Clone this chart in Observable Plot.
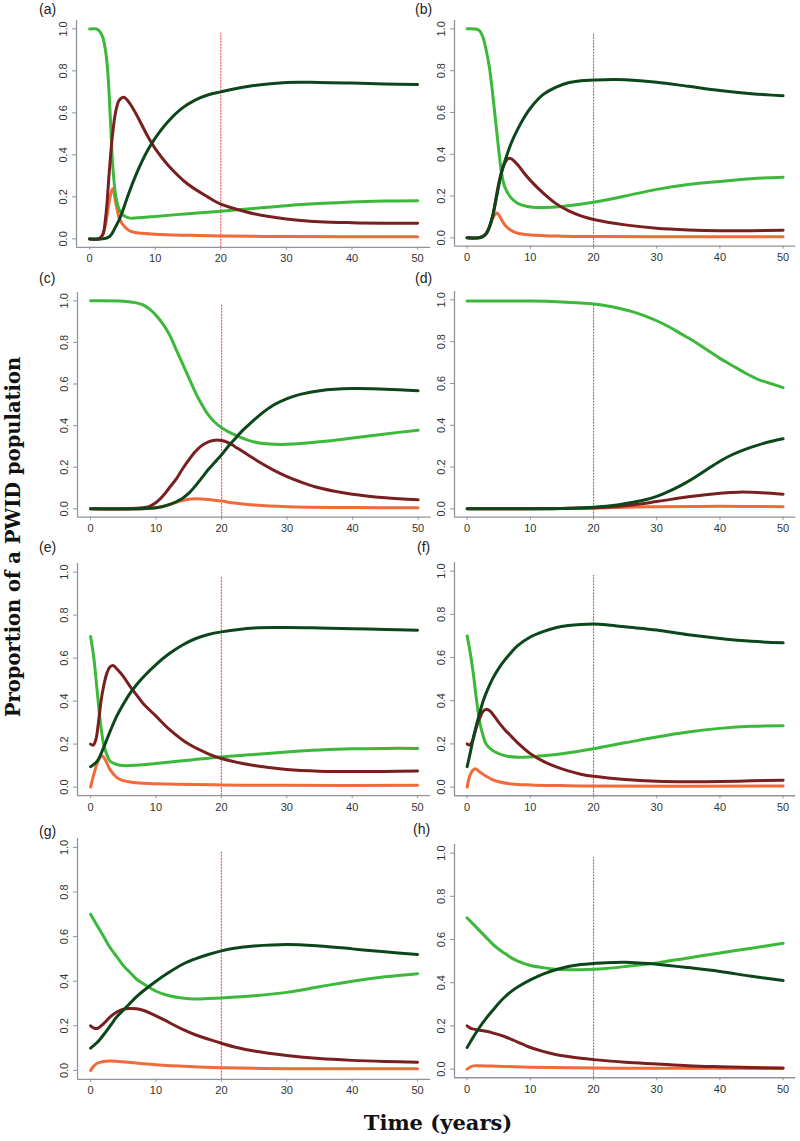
<!DOCTYPE html>
<html><head><meta charset="utf-8">
<script src="https://cdn.jsdelivr.net/npm/d3@7"></script>
<script src="https://cdn.jsdelivr.net/npm/@observablehq/plot@0.6"></script>
<style>
body{margin:0;background:#fff;}
#root{position:relative;width:800px;height:1141px;overflow:hidden;background:#fff;}
.pl{position:absolute;}
.lab{position:absolute;font-family:"Liberation Sans",Arial,sans-serif;font-size:14px;color:#222;line-height:1;white-space:nowrap;}
.title{position:absolute;font-family:"DejaVu Serif",serif;font-weight:bold;color:#111;white-space:nowrap;line-height:1;}
</style>
</head><body>
<div id="root"></div>
<script>
// ---------- tick labels / categories ----------
const xTicks = [0, 10, 20, 30, 40, 50];
const yTicks = [0, 0.2, 0.4, 0.6, 0.8, 1.0];
const panelLetters = ["a","b","c","d","e","f","g","h"];
const seriesKeys = ["orange","lightGreen","darkRed","darkGreen"];
const seriesColors = {lightGreen:"#3cb83a", darkGreen:"#0b471b", darkRed:"#7a1f1f", orange:"#f26a3a"};
const interventionYear = 20;
const yTitle = "Proportion of a PWID population";
const xTitle = "Time (years)";

// ---------- series values [year, proportion] ----------
const a_lightGreen = [[0,1.0],[1,1.0],[1.5,0.99],[2,0.96],[2.5,0.88],[2.8,0.78],[3.2,0.55],[3.5,0.36],[4,0.2],[4.5,0.14],[5,0.115],[6,0.10],[8,0.102],[10,0.107],[15,0.12],[20,0.132],[25,0.145],[30,0.158],[35,0.168],[40,0.176],[45,0.18],[50,0.182]];
const a_darkRed = [[0,0],[1,0],[1.5,0.003],[2,0.02],[2.5,0.12],[3,0.32],[3.5,0.5],[4,0.61],[4.5,0.66],[5.2,0.675],[6,0.65],[7,0.6],[8,0.54],[9,0.48],[10,0.43],[12,0.35],[15,0.26],[18,0.2],[20,0.165],[22,0.145],[25,0.12],[30,0.095],[35,0.082],[40,0.077],[45,0.075],[50,0.075]];
const a_darkGreen = [[0,0],[2,0],[3,0.01],[3.5,0.03],[4,0.06],[4.5,0.09],[5,0.13],[6,0.22],[7,0.3],[8,0.37],[9,0.43],[10,0.48],[12,0.56],[14,0.62],[16,0.66],[18,0.685],[20,0.70],[25,0.73],[30,0.745],[35,0.745],[40,0.742],[45,0.738],[50,0.735]];
const a_orange = [[0,0],[1.5,0],[2,0.02],[2.5,0.08],[3,0.18],[3.5,0.24],[4,0.17],[4.5,0.1],[5,0.07],[6,0.04],[7,0.03],[10,0.022],[15,0.017],[20,0.014],[30,0.011],[40,0.01],[50,0.01]];

const b_lightGreen = [[0,1.0],[1.5,0.998],[2,0.99],[2.5,0.96],[3,0.9],[3.5,0.82],[4,0.7],[4.5,0.56],[5,0.42],[5.5,0.3],[6,0.24],[7,0.19],[8,0.165],[10,0.148],[12,0.145],[15,0.15],[20,0.17],[25,0.2],[30,0.232],[35,0.255],[40,0.27],[45,0.283],[50,0.29]];
const b_darkRed = [[0,0],[2,0.002],[3,0.02],[4,0.1],[4.5,0.18],[5,0.26],[5.5,0.32],[6,0.36],[6.5,0.38],[7,0.378],[8,0.35],[9,0.31],[10,0.275],[12,0.215],[14,0.165],[16,0.13],[18,0.105],[20,0.088],[25,0.062],[30,0.046],[35,0.038],[40,0.034],[45,0.034],[50,0.036]];
const b_darkGreen = [[0,0],[2,0],[2.5,0.005],[3,0.02],[3.5,0.05],[4,0.1],[4.5,0.17],[5,0.25],[5.5,0.32],[6,0.37],[7,0.455],[8,0.52],[9,0.575],[10,0.62],[12,0.685],[14,0.72],[16,0.742],[18,0.752],[20,0.755],[23,0.758],[25,0.757],[30,0.745],[35,0.725],[40,0.705],[45,0.69],[50,0.68]];
const b_orange = [[0,0],[2,0.001],[3,0.02],[3.5,0.05],[4,0.09],[4.5,0.115],[4.8,0.118],[5.2,0.1],[6,0.06],[7,0.035],[8,0.022],[10,0.014],[15,0.008],[20,0.006],[30,0.005],[50,0.005]];

const c_lightGreen = [[0,1.0],[5,0.998],[7,0.99],[8,0.98],[9,0.96],[10,0.93],[11,0.89],[12,0.84],[13,0.77],[14,0.70],[15,0.63],[16,0.56],[17,0.5],[18,0.45],[19,0.415],[20,0.39],[22,0.355],[24,0.33],[26,0.315],[28,0.31],[30,0.31],[35,0.322],[40,0.34],[45,0.36],[50,0.378]];
const c_darkRed = [[0,0],[8,0.005],[9,0.012],[10,0.03],[11,0.06],[12,0.1],[13,0.14],[14,0.19],[15,0.235],[16,0.275],[17,0.305],[18,0.322],[19,0.33],[20,0.328],[21,0.318],[22,0.3],[24,0.26],[26,0.22],[28,0.185],[30,0.155],[32,0.13],[35,0.1],[40,0.07],[45,0.053],[50,0.043]];
const c_darkGreen = [[0,0],[10,0.005],[12,0.02],[14,0.05],[15,0.075],[16,0.11],[17,0.15],[18,0.19],[19,0.225],[20,0.26],[21,0.3],[22,0.335],[23,0.37],[24,0.4],[26,0.455],[28,0.5],[30,0.53],[32,0.55],[35,0.568],[40,0.578],[45,0.575],[50,0.568]];
const c_orange = [[0,0],[10,0.005],[12,0.02],[14,0.04],[16,0.048],[18,0.045],[20,0.037],[22,0.028],[25,0.018],[30,0.01],[40,0.006],[50,0.005]];

const d_lightGreen = [[0,0.995],[10,0.994],[15,0.99],[18,0.985],[20,0.98],[22,0.972],[24,0.96],[26,0.945],[28,0.925],[30,0.9],[32,0.87],[34,0.835],[36,0.8],[38,0.76],[40,0.72],[42,0.685],[44,0.65],[46,0.62],[48,0.6],[50,0.58]];
const d_darkRed = [[0,0],[20,0.005],[25,0.015],[30,0.035],[35,0.058],[40,0.075],[43,0.08],[46,0.078],[50,0.07]];
const d_darkGreen = [[0,0],[15,0.002],[20,0.008],[22,0.013],[24,0.02],[26,0.03],[28,0.042],[30,0.06],[32,0.085],[34,0.115],[36,0.15],[38,0.19],[40,0.228],[42,0.26],[44,0.285],[46,0.305],[48,0.322],[50,0.335]];
const d_orange = [[0,0],[20,0.003],[25,0.008],[30,0.01],[40,0.012],[50,0.01]];

const e_lightGreen = [[0,0.7],[0.5,0.6],[1,0.45],[1.5,0.3],[2,0.2],[2.5,0.15],[3,0.12],[4,0.105],[5,0.1],[7,0.102],[10,0.11],[15,0.125],[20,0.14],[25,0.152],[30,0.163],[35,0.172],[40,0.178],[45,0.18],[50,0.18]];
const e_darkRed = [[0,0.2],[0.4,0.195],[0.8,0.22],[1.2,0.3],[1.6,0.4],[2,0.47],[2.5,0.53],[3,0.56],[3.5,0.565],[4,0.55],[5,0.515],[6,0.47],[7,0.43],[8,0.39],[10,0.33],[12,0.27],[15,0.2],[18,0.155],[20,0.133],[25,0.1],[30,0.082],[35,0.074],[40,0.072],[45,0.073],[50,0.075]];
const e_darkGreen = [[0,0.095],[1,0.12],[2,0.185],[3,0.26],[4,0.33],[5,0.385],[6,0.435],[7,0.475],[8,0.51],[10,0.57],[12,0.62],[14,0.66],[16,0.69],[18,0.71],[20,0.722],[25,0.74],[30,0.742],[35,0.74],[40,0.737],[45,0.733],[50,0.73]];
const e_orange = [[0,0],[0.5,0.06],[1,0.11],[1.5,0.14],[1.8,0.145],[2.2,0.13],[3,0.08],[4,0.045],[5,0.03],[7,0.02],[10,0.015],[20,0.01],[30,0.008],[50,0.008]];

const f_lightGreen = [[0,0.7],[0.5,0.62],[1,0.52],[1.5,0.4],[2,0.3],[2.5,0.24],[3,0.2],[4,0.17],[5,0.155],[6,0.145],[8,0.138],[10,0.14],[12,0.145],[15,0.155],[20,0.178],[25,0.205],[30,0.232],[35,0.255],[40,0.272],[45,0.282],[50,0.284]];
const f_darkRed = [[0,0.2],[0.4,0.195],[0.8,0.21],[1.2,0.25],[1.6,0.29],[2,0.32],[2.5,0.35],[3,0.36],[3.5,0.355],[4,0.34],[5,0.3],[6,0.265],[7,0.235],[8,0.205],[10,0.155],[12,0.12],[14,0.095],[16,0.075],[18,0.06],[20,0.05],[25,0.035],[30,0.027],[35,0.025],[40,0.026],[45,0.029],[50,0.032]];
const f_darkGreen = [[0,0.095],[0.5,0.16],[1,0.23],[1.5,0.29],[2,0.345],[2.5,0.395],[3,0.435],[4,0.5],[5,0.55],[6,0.59],[7,0.625],[8,0.655],[10,0.695],[12,0.72],[14,0.738],[16,0.748],[18,0.753],[20,0.755],[22,0.752],[25,0.742],[30,0.727],[35,0.705],[40,0.688],[45,0.675],[50,0.668]];
const f_orange = [[0,0],[0.4,0.05],[0.8,0.075],[1.3,0.085],[2,0.07],[3,0.05],[4,0.035],[5,0.025],[7,0.015],[10,0.01],[15,0.007],[20,0.005],[50,0.005]];

const g_lightGreen = [[0,0.7],[1,0.65],[2,0.6],[3,0.55],[4,0.51],[5,0.47],[6,0.44],[7,0.41],[8,0.39],[10,0.355],[12,0.335],[14,0.325],[16,0.32],[18,0.322],[20,0.325],[25,0.335],[30,0.35],[35,0.375],[40,0.4],[45,0.42],[50,0.434]];
const g_darkRed = [[0,0.2],[0.5,0.19],[1,0.188],[2,0.21],[3,0.24],[4,0.262],[5,0.275],[6,0.278],[7,0.277],[8,0.27],[10,0.245],[12,0.215],[14,0.185],[16,0.16],[18,0.14],[20,0.122],[22,0.105],[25,0.087],[30,0.067],[35,0.053],[40,0.045],[45,0.04],[50,0.037]];
const g_darkGreen = [[0,0.1],[1,0.125],[2,0.16],[3,0.2],[4,0.24],[5,0.27],[6,0.3],[7,0.33],[8,0.355],[10,0.4],[12,0.44],[14,0.475],[16,0.5],[18,0.52],[20,0.536],[22,0.548],[25,0.558],[30,0.565],[35,0.558],[40,0.545],[45,0.532],[50,0.52]];
const g_orange = [[0,0],[0.5,0.02],[1,0.032],[2,0.04],[3,0.042],[4,0.041],[6,0.036],[8,0.03],[10,0.025],[15,0.017],[20,0.012],[30,0.008],[40,0.007],[50,0.007]];

const h_lightGreen = [[0,0.7],[1,0.67],[2,0.64],[3,0.61],[4,0.58],[5,0.555],[6,0.535],[7,0.515],[8,0.5],[10,0.48],[12,0.47],[14,0.463],[16,0.46],[18,0.46],[20,0.462],[22,0.466],[25,0.475],[30,0.492],[35,0.515],[40,0.538],[45,0.56],[50,0.583]];
const h_darkRed = [[0,0.2],[0.5,0.19],[1,0.185],[2,0.18],[3,0.175],[4,0.168],[5,0.16],[6,0.15],[7,0.138],[8,0.125],[10,0.1],[12,0.082],[14,0.068],[16,0.058],[18,0.05],[20,0.044],[25,0.032],[30,0.024],[35,0.016],[40,0.011],[45,0.007],[50,0.005]];
const h_darkGreen = [[0,0.1],[1,0.15],[2,0.195],[3,0.235],[4,0.27],[5,0.305],[6,0.335],[7,0.36],[8,0.38],[10,0.413],[12,0.44],[14,0.46],[16,0.475],[18,0.484],[20,0.489],[22,0.493],[25,0.495],[28,0.49],[30,0.486],[35,0.47],[40,0.452],[45,0.43],[50,0.41]];
const h_orange = [[0,0],[0.5,0.01],[1,0.015],[2,0.016],[4,0.014],[6,0.012],[10,0.009],[20,0.005],[30,0.004],[50,0.003]];

const panelData = {
  a:{lightGreen:a_lightGreen, darkRed:a_darkRed, darkGreen:a_darkGreen, orange:a_orange},
  b:{lightGreen:b_lightGreen, darkRed:b_darkRed, darkGreen:b_darkGreen, orange:b_orange},
  c:{lightGreen:c_lightGreen, darkRed:c_darkRed, darkGreen:c_darkGreen, orange:c_orange},
  d:{lightGreen:d_lightGreen, darkRed:d_darkRed, darkGreen:d_darkGreen, orange:d_orange},
  e:{lightGreen:e_lightGreen, darkRed:e_darkRed, darkGreen:e_darkGreen, orange:e_orange},
  f:{lightGreen:f_lightGreen, darkRed:f_darkRed, darkGreen:f_darkGreen, orange:f_orange},
  g:{lightGreen:g_lightGreen, darkRed:g_darkRed, darkGreen:g_darkGreen, orange:g_orange},
  h:{lightGreen:h_lightGreen, darkRed:h_darkRed, darkGreen:h_darkGreen, orange:h_orange},
};

// ---------- layout (page pixel positions of year 0/50 and proportion 1/0) ----------
const geom = {
  a:{x0:89, x50:417, y1:28, y0:238, lx:39, ly:2},
  b:{x0:467, x50:783, y1:28, y0:237, lx:415, ly:2},
  c:{x0:90, x50:417.5, y1:300, y0:508, lx:39, ly:271},
  d:{x0:467, x50:783, y1:299, y0:508, lx:415, ly:271},
  e:{x0:90, x50:417, y1:572, y0:787, lx:39, ly:540},
  f:{x0:467, x50:783, y1:571, y0:787, lx:417, ly:540},
  g:{x0:90, x50:417, y1:847, y0:1070, lx:39, ly:824},
  h:{x0:467, x50:783, y1:853, y0:1069, lx:413, ly:822},
};

const root = document.getElementById("root");
const ML = 30, MR = 6, MT = 6, MB = 26;

for (const p of panelLetters) {
  const g = geom[p];
  const kx = (g.x50 - g.x0) / 50, ky = g.y0 - g.y1;
  const fl = g.x0 - 2 * kx, fr = g.x50 + 2 * kx;
  const ft = g.y1 - 0.04 * ky, fb = g.y0 + 0.04 * ky;
  const rows = [];
  for (const k of seriesKeys) for (const [t, v] of panelData[p][k]) rows.push({t, v, k});
  const chart = Plot.plot({
    width: (fr - fl) + ML + MR,
    height: (fb - ft) + MT + MB,
    marginLeft: ML, marginRight: MR, marginTop: MT, marginBottom: MB,
    x: {domain: [-2, 52]},
    y: {domain: [-0.04, 1.04]},
    style: {fontFamily: '"Liberation Sans", Arial, sans-serif', fontSize: "11px", color: "#333", background: "transparent", overflow: "visible"},
    marks: [
      Plot.ruleX([interventionYear], {y1: -0.04, y2: 0.98, stroke: "#f0485e", strokeWidth: 1.1, strokeDasharray: "2,1"}),
      Plot.ruleX([-2], {y1: -0.04, y2: 1.04, stroke: "#8d949b", strokeWidth: 1.3}),
      Plot.ruleY([-0.04], {x1: -2, x2: 52, stroke: "#8d949b", strokeWidth: 1.3}),
      Plot.axisX({ticks: xTicks, tickSize: 3, tickPadding: 4, stroke: "#8d949b", fill: "#333", label: null, tickFormat: d3.format("d")}),
      Plot.axisY({ticks: yTicks, tickSize: 4, stroke: "#8d949b", label: null, tickFormat: () => ""}),
      Plot.text(yTicks, {x: -2, y: d => d, text: d => d.toFixed(1), rotate: -90, dx: -13, textAnchor: "middle", fill: "#333", fontSize: 11}),
      Plot.line(rows, {x: "t", y: "v", z: "k", stroke: d => seriesColors[d.k], strokeWidth: 3, curve: "catmull-rom"})
    ]
  });
  chart.classList.add("pl");
  chart.style.left = (fl - ML) + "px";
  chart.style.top = (ft - MT) + "px";
  root.appendChild(chart);
  const lab = document.createElement("div");
  lab.className = "lab";
  lab.textContent = "(" + p + ")";
  lab.style.left = g.lx + "px";
  lab.style.top = g.ly + "px";
  root.appendChild(lab);
}

const yt = document.createElement("div");
yt.className = "title";
yt.textContent = yTitle;
yt.style.fontSize = "19.5px";
yt.style.left = "14px"; yt.style.top = "537px";
yt.style.transform = "translate(-50%,-50%) rotate(-90deg)";
root.appendChild(yt);

const xt = document.createElement("div");
xt.className = "title";
xt.textContent = xTitle;
xt.style.fontSize = "21px";
xt.style.left = "438px"; xt.style.top = "1122px";
xt.style.transform = "translate(-50%,-50%)";
root.appendChild(xt);
</script>
</body></html>
